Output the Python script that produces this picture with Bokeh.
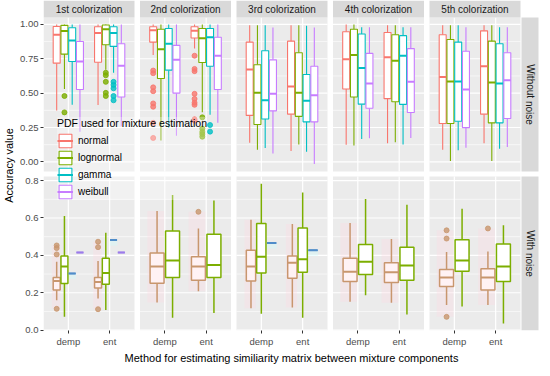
from bokeh.plotting import figure
from bokeh.models import Range1d, FixedTicker, Legend, LegendItem, ColumnDataSource
from bokeh.core.properties import value
from bokeh.embed import file_html
from bokeh.resources import INLINE

# ---------------- data ----------------
colorizations = ["1st colorization", "2nd colorization", "3rd colorization",
                 "4th colorization", "5th colorization"]
noise_rows = ["Without noise", "With noise"]
methods = ["demp", "ent"]
pdfs = ["normal", "lognormal", "gamma", "weibull"]
pdf_colors = ["#F8766D", "#7CAE00", "#00BFC4", "#C77CFF"]
noisy_colors = ["#C8966E", "#7CAE00", "#4F8CC9", "#9B7BEA"]

top_ticks = [0.0, 0.25, 0.5, 0.75, 1.0]
top_tick_labels = ["0.00", "0.25", "0.50", "0.75", "1.00"]
top_minor = [0.125, 0.375, 0.625, 0.875]
bot_ticks = [0.0, 0.2, 0.4, 0.6, 0.8]
bot_tick_labels = ["0.0", "0.2", "0.4", "0.6", "0.8"]
bot_minor = [0.1, 0.3, 0.5, 0.7]

# (lower whisker, q1, median, q3, upper whisker) per [colorization][method][pdf]
clean_stats = [
    [[(0.373, 0.718, 0.925, 0.985, 1.0), (0.53, 0.784, 0.951, 0.993, 1.0),
      (0.415, 0.73, 0.882, 0.976, 1.0), (0.22, 0.526, 0.73, 0.875, 1.0)],
     [(0.413, 0.725, 0.937, 0.983, 1.0), (0.67, 0.852, 0.965, 0.995, 1.0),
      (0.648, 0.84, 0.937, 0.983, 1.0), (0.26, 0.472, 0.70, 0.859, 1.0)]],
    [[(0.777, 0.871, 0.958, 0.983, 1.0), (0.155, 0.606, 0.819, 0.965, 1.0),
      (0.249, 0.667, 0.859, 0.97, 1.0), (0.19, 0.50, 0.742, 0.847, 1.0)],
     [(0.824, 0.901, 0.953, 0.983, 1.0), (0.361, 0.723, 0.899, 0.97, 1.0),
      (0.343, 0.695, 0.906, 0.97, 1.0), (0.284, 0.526, 0.772, 0.906, 1.0)]],
    [[(0.139, 0.338, 0.671, 0.871, 0.993), (0.089, 0.272, 0.502, 0.706, 0.993),
      (0.101, 0.312, 0.448, 0.808, 0.993), (0.061, 0.371, 0.495, 0.742, 0.977)],
     [(0.08, 0.347, 0.549, 0.878, 0.993), (0.127, 0.331, 0.502, 0.794, 0.993),
      (0.073, 0.291, 0.444, 0.636, 0.99), (-0.015, 0.291, 0.484, 0.695, 0.977)]],
    [[(0.125, 0.53, 0.746, 0.946, 1.0), (0.12, 0.472, 0.777, 0.965, 1.0),
      (0.167, 0.42, 0.683, 0.93, 0.98), (0.171, 0.39, 0.57, 0.789, 0.98)],
     [(0.136, 0.46, 0.761, 0.941, 0.993), (0.143, 0.437, 0.735, 0.925, 0.993),
      (0.127, 0.418, 0.772, 0.918, 0.98), (0.174, 0.359, 0.582, 0.824, 0.98)]],
    [[(0.089, 0.279, 0.617, 0.925, 0.993), (0.007, 0.279, 0.585, 0.89, 0.993),
      (0.085, 0.296, 0.585, 0.871, 0.993), (0.103, 0.249, 0.526, 0.805, 0.98)],
     [(0.136, 0.347, 0.695, 0.953, 0.993), (0.007, 0.284, 0.577, 0.878, 0.993),
      (0.096, 0.284, 0.57, 0.859, 0.98), (0.108, 0.315, 0.594, 0.794, 0.98)]],
]
clean_outliers = {
    (0, 0, 1): [0.479, 0.36],
    (0, 1, 1): [0.648, 0.63, 0.582, 0.502, 0.479],
    (0, 1, 2): [0.582, 0.56, 0.535, 0.479, 0.448],
    (1, 0, 0): [0.664, 0.645, 0.542, 0.514, 0.425, 0.401, 0.284, 0.174],
    (1, 1, 0): [0.772, 0.676, 0.66, 0.495, 0.458, 0.43, 0.415, 0.31, 0.30],
    (1, 1, 1): [0.324, 0.242, 0.218, 0.202, 0.183],
    (1, 1, 2): [0.268, 0.22],
}

noisy_stats = [
    [[(0.16, 0.215, 0.263, 0.281, 0.366), (0.071, 0.25, 0.341, 0.397, 0.611),
      (0.303,) * 5, (0.415,) * 5],
     [(0.169, 0.226, 0.258, 0.281, 0.37), (0.108, 0.246, 0.306, 0.384, 0.521),
      (0.482,) * 5, (0.415,) * 5]],
    [[(0.148, 0.251, 0.341, 0.413, 0.637), (0.066, 0.281, 0.372, 0.53, 0.723), None, None],
     [(0.208, 0.267, 0.341, 0.392, 0.544), (0.091, 0.281, 0.349, 0.513, 0.694), None, None]],
    [[(0.117, 0.263, 0.341, 0.427, 0.59), (0.088, 0.306, 0.392, 0.57, 0.783), (0.466,) * 5, None],
     [(0.121, 0.277, 0.361, 0.396, 0.568), (0.066, 0.31, 0.379, 0.547, 0.737), (0.427,) * 5, None]],
    [[(0.152, 0.26, 0.312, 0.384, 0.573), (0.186, 0.298, 0.366, 0.458, 0.702), None, None],
     [(0.147, 0.255, 0.31, 0.361, 0.487), (0.083, 0.267, 0.346, 0.444, 0.671), None, None]],
    [[(0.134, 0.234, 0.281, 0.324, 0.418), (0.126, 0.315, 0.372, 0.484, 0.65), None, None],
     [(0.134, 0.215, 0.281, 0.329, 0.421), (0.036, 0.26, 0.341, 0.461, 0.561), None, None]],
]
noisy_outliers = {
    (0, 0, 0): [0.453, 0.439, 0.405, 0.114],
    (0, 1, 0): [0.473, 0.444, 0.112],
    (1, 1, 0): [0.633],
    (4, 0, 0): [0.534, 0.49, 0.071],
    (4, 1, 0): [0.544],
}

# ---------------- layout (pixels) ----------------
FONT = "Liberation Sans"
FW, FH = 496, 330
PW, GAP = 91.0, 5.5
STEP = PW + GAP
STRIP = 17
ROW_T = [17, 176]
ROW_B = [171, 330]
ROW_LIM = [(-0.07, 1.05), (-0.002, 0.822)]
X_LO, X_HI = 0.4, 2.6
PANEL_BG = "#EBEBEB"
STRIP_BG = "#D9D9D9"

p = figure(frame_width=FW, frame_height=FH, x_range=Range1d(0, FW), y_range=Range1d(0, FH),
           min_border_left=38, min_border_right=0, min_border_top=0, min_border_bottom=30,
           toolbar_location=None, output_backend="svg", background_fill_color="white",
           border_fill_color="white", outline_line_color=None)
p.grid.visible = False

upx = (X_HI - X_LO) / PW
panel_left = [k * STEP for k in range(len(colorizations))]
for k, L in enumerate(panel_left):
    start = X_LO - L * upx
    p.extra_x_ranges[f"x{k}"] = Range1d(start, start + FW * upx)
for r in range(2):
    lo, hi = ROW_LIM[r]
    u = (hi - lo) / (ROW_B[r] - ROW_T[r])
    p.extra_y_ranges[f"y{r}"] = Range1d(lo - (FH - ROW_B[r]) * u, hi + ROW_T[r] * u)


def ypx(r, v):
    lo, hi = ROW_LIM[r]
    return (FH - ROW_B[r]) + (v - lo) * (ROW_B[r] - ROW_T[r]) / (hi - lo)


# panel backgrounds
bl, br, bb, bt = [], [], [], []
for r in range(2):
    for L in panel_left:
        bl.append(L); br.append(L + PW); bb.append(FH - ROW_B[r]); bt.append(FH - ROW_T[r])
p.quad(left=bl, right=br, bottom=bb, top=bt, fill_color=PANEL_BG, line_color=None)

# grid lines
row_major = [top_ticks, bot_ticks]
row_minor = [top_minor, bot_minor]
for r in range(2):
    lo, hi = ROW_LIM[r]
    for k in range(len(colorizations)):
        kw = dict(x_range_name=f"x{k}", y_range_name=f"y{r}", line_color="white")
        p.segment(x0=X_LO, x1=X_HI, y0=row_minor[r], y1=row_minor[r], line_width=0.6, **kw)
        p.segment(x0=X_LO, x1=X_HI, y0=row_major[r], y1=row_major[r], line_width=1.2, **kw)
        p.segment(x0=[1, 2], x1=[1, 2], y0=lo, y1=hi, line_width=1.2, **kw)

# strips
p.quad(left=panel_left, right=[L + PW for L in panel_left], bottom=FH - STRIP, top=FH,
       fill_color=STRIP_BG, line_color=None)
p.text(x=[L + PW / 2 for L in panel_left], y=FH - STRIP / 2, text=colorizations,
       text_align="center", text_baseline="middle", text_font=value(FONT),
       text_font_size="10px", text_color="#1A1A1A")
sx0 = panel_left[-1] + PW + 1
p.quad(left=sx0, right=sx0 + STRIP, bottom=[FH - b for b in ROW_B], top=[FH - t for t in ROW_T],
       fill_color=STRIP_BG, line_color=None)
p.text(x=sx0 + STRIP / 2, y=[FH - (t + b) / 2 for t, b in zip(ROW_T, ROW_B)], text=noise_rows,
       angle=-1.5708, text_align="center", text_baseline="middle", text_font=value(FONT),
       text_font_size="10px", text_color="#1A1A1A")


def draw_row(r, stats, outliers, colors, fills, lw, glow):
    keep = {}
    for k in range(len(colorizations)):
        present = [i for i in range(len(pdfs))
                   if any(stats[k][m][i] is not None for m in range(len(methods)))]
        n = len(present)
        slot = 0.75 / n
        bw = slot * 0.9
        d = dict(x=[], left=[], right=[], lo=[], q1=[], med=[], q3=[], hi=[], color=[], fill=[])
        gl = dict(left=[], right=[], bottom=[], top=[], color=[])
        ox, oy, oc = [], [], []
        order = []
        for m in range(len(methods)):
            for si, i in enumerate(present):
                s = stats[k][m][i]
                if s is None:
                    continue
                xc = m + 1 - 0.375 + slot * (si + 0.5)
                d["x"].append(xc); d["left"].append(xc - bw / 2); d["right"].append(xc + bw / 2)
                for key, v in zip(["lo", "q1", "med", "q3", "hi"], s):
                    d[key].append(v)
                d["color"].append(colors[i]); d["fill"].append(fills[i])
                order.append((m, i))
                outs = outliers.get((k, m, i), [])
                ox += [xc] * len(outs); oy += outs; oc += [colors[i]] * len(outs)
                if i in glow:
                    if i == 0:
                        lo_g = min([s[0]] + outs); hi_g = max([s[4]] + outs)
                        gw = bw * 1.2
                        gc = xc - bw * 0.1
                    else:
                        lo_g, hi_g = s[2] - 0.03, s[2]
                        gw = bw * 1.1
                        gc = xc
                    gl["left"].append(gc - gw / 2); gl["right"].append(gc + gw / 2)
                    gl["bottom"].append(lo_g); gl["top"].append(hi_g); gl["color"].append(glow[i])
        kw = dict(x_range_name=f"x{k}", y_range_name=f"y{r}")
        if gl["left"]:
            p.quad(left="left", right="right", bottom="bottom", top="top", fill_color="color",
                   fill_alpha=0.3, line_color=None, source=ColumnDataSource(gl), **kw)
        src = ColumnDataSource(d)
        p.segment(x0="x", x1="x", y0="q3", y1="hi", line_color="color", line_width=lw,
                  source=src, **kw)
        p.segment(x0="x", x1="x", y0="q1", y1="lo", line_color="color", line_width=lw,
                  source=src, **kw)
        qr = p.quad(left="left", right="right", bottom="q1", top="q3", fill_color="fill",
                    line_color="color", line_width=lw, source=src, **kw)
        mr = p.segment(x0="left", x1="right", y0="med", y1="med", line_color="color",
                       line_width=2.0, source=src, **kw)
        if ox:
            p.scatter(x=ox, y=oy, size=5, fill_color=oc, line_color=oc, alpha=0.8, **kw)
        keep[k] = (qr, mr, order)
    return keep


clean_r = draw_row(0, clean_stats, clean_outliers, pdf_colors, ["white"] * 4, 1.1, {})
draw_row(1, noisy_stats, noisy_outliers, noisy_colors, ["#FFF2F4", "white", "white", "white"],
         1.5, {0: "#FFD6E2", 2: "#C8FFFF"})

# legend
qr, mr, order = clean_r[0]
items = [LegendItem(label=pdfs[i], renderers=[qr, mr], index=order.index((0, i)))
         for i in range(len(pdfs))]
legend = Legend(items=items, location=(14, 130), title="PDF used for mixture estimation",
                title_text_font=FONT, title_text_font_size="10.5px", title_text_font_style="normal",
                title_text_color="#000000", title_standoff=3,
                label_text_font=FONT, label_text_font_size="10px", label_text_color="#000000",
                glyph_width=16, glyph_height=17, label_height=17, spacing=0, padding=4, margin=0,
                label_standoff=5, background_fill_color="white", background_fill_alpha=0.3,
                border_line_color=None)
p.add_layout(legend)

# axes
yt, ylab = [], {}
for r, (ticks, labels) in enumerate([(top_ticks, top_tick_labels), (bot_ticks, bot_tick_labels)]):
    for v, lab in zip(ticks, labels):
        y = round(ypx(r, v), 3)
        yt.append(y); ylab[y] = lab
xt, xlab = [], {}
for k, L in enumerate(panel_left):
    for m, name in enumerate(methods):
        x = round(L + (m + 1 - X_LO) / upx, 3)
        xt.append(x); xlab[x] = name

for ax, ticks, labs, bounds, title in [
        (p.yaxis[0], yt, ylab, (FH - ROW_B[1], FH - ROW_T[0]), "Accuracy value"),
        (p.xaxis[0], xt, xlab, (0, panel_left[-1] + PW),
         "Method for estimating similiarity matrix between mixture components")]:
    ax.ticker = FixedTicker(ticks=ticks, minor_ticks=[])
    ax.major_label_overrides = labs
    ax.bounds = bounds
    ax.axis_line_color = None
    ax.major_tick_line_color = "#333333"
    ax.major_tick_out = 3
    ax.major_tick_in = 0
    ax.minor_tick_line_color = None
    ax.major_label_text_color = "#4D4D4D"
    ax.major_label_text_font = FONT
    ax.major_label_text_font_size = "9.5px"
    ax.major_label_standoff = 2
    ax.axis_label = title
    ax.axis_label_text_font = FONT
    ax.axis_label_text_font_size = "11px"
    ax.axis_label_text_font_style = "normal"
    ax.axis_label_text_color = "#000000"
    ax.axis_label_standoff = 2

open("out.html", "w").write(file_html(p, INLINE))
